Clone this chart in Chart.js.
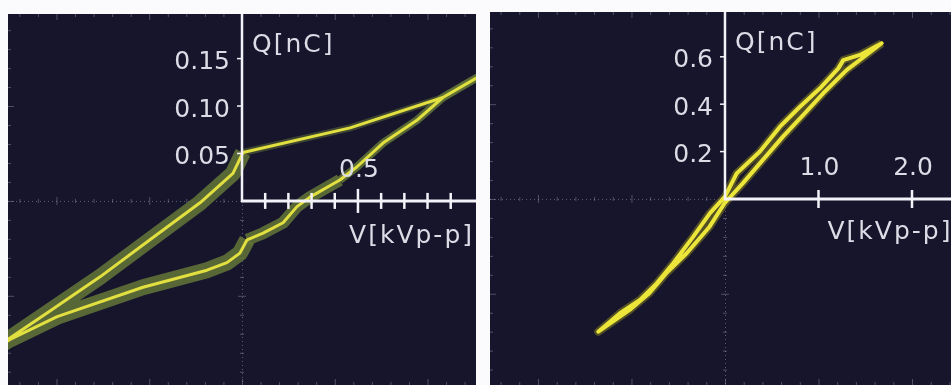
<!DOCTYPE html>
<html>
<head>
<meta charset="utf-8">
<script src="https://cdn.jsdelivr.net/npm/chart.js@4.4.1/dist/chart.umd.min.js"></script>
<style>
  body { margin: 0; background: #fbfbfd; width: 951px; height: 385px; overflow: hidden; position: relative; }
  .painel { position: absolute; background: #17152c; }
  #painelEsq { left: 8px; top: 14px; width: 468px; height: 371px; }
  #painelDir { left: 490px; top: 12px; width: 461px; height: 373px; }
  canvas { display: block; }
</style>
</head>
<body>
<div class="painel" id="painelEsq"><canvas id="graficoEsq" width="468" height="371"></canvas></div>
<div class="painel" id="painelDir"><canvas id="graficoDir" width="461" height="373"></canvas></div>
<script>
// Painel esquerdo - laço Q-V (V em kV, Q em nC), percorrido a partir da ponta superior
const tensaoEsq = [1.07, 0.866, 0.754, 0.608, 0.496, 0.422, 0.293, 0.237, 0.177, 0.091, 0.022, -0.009, -0.065, -0.151, -0.427, -0.797, -1.0, -1.07,
  -0.828, -0.612, -0.397, -0.181, -0.039, 0.004, 0.466, 0.866, 1.07];
const cargaEsq = [0.138, 0.109, 0.085, 0.061, 0.036, 0.022, 0.004, -0.006, -0.023, -0.034, -0.041, -0.055, -0.065, -0.073, -0.091, -0.122, -0.146, -0.156,
  -0.116, -0.080, -0.041, -0.002, 0.029, 0.051, 0.077, 0.109, 0.138];

// Painel direito - laço Q-V estreito
const tensaoDir = [1.676, 1.444, 1.265, 1.212, 1.016, 0.802, 0.588, 0.374, 0.125, 0.0, -0.160, -0.339, -0.553, -0.730, -0.909, -1.123, -1.355,
  -1.02, -0.81, -0.63, -0.41, -0.165, -0.005, 0.19, 0.405, 0.62, 0.835, 1.05, 1.30, 1.676];
const cargaDir = [0.657, 0.608, 0.586, 0.551, 0.467, 0.389, 0.305, 0.200, 0.108, 0.010, -0.060, -0.159, -0.271, -0.356, -0.426, -0.482, -0.560,
  -0.468, -0.398, -0.314, -0.229, -0.117, -0.018, 0.066, 0.165, 0.263, 0.354, 0.446, 0.544, 0.657];

// Marcas dos eixos
const marcasXEsq = [0.1, 0.2, 0.3, 0.4, 0.5, 0.6, 0.7, 0.8, 0.9];
const rotulosXEsq = [0.5];
const marcasYEsq = [0.05, 0.10, 0.15];
const marcasXDir = [1.0, 2.0];
const rotulosXDir = [1.0, 2.0];
const marcasYDir = [0.2, 0.4, 0.6];

const tituloY = "Q[nC]";
const tituloX = "V[kVp-p]";

function pontos(vs, qs) {
  return vs.map((v, i) => ({ x: v, y: qs[i] }));
}

function linha(ctx, x1, y1, x2, y2) {
  ctx.beginPath();
  ctx.moveTo(x1, y1);
  ctx.lineTo(x2, y2);
  ctx.stroke();
}

// Retículo do osciloscópio + eixos brancos desenhados a partir das escalas
const eixosOsc = {
  id: "eixosOsc",
  beforeDatasetsDraw(chart, args, o) {
    const { ctx, chartArea: a, scales: { x, y } } = chart;
    const x0 = x.getPixelForValue(0), y0 = y.getPixelForValue(0);
    ctx.save();
    ctx.strokeStyle = "rgba(150,150,185,0.55)";
    ctx.lineWidth = 1;
    ctx.setLineDash([1, 3]);
    linha(ctx, a.left, y0 + 0.5, x0, y0 + 0.5);
    linha(ctx, x0 + 0.5, y0, x0 + 0.5, a.bottom);
    ctx.setLineDash([]);
    ctx.strokeStyle = "rgba(150,150,185,0.45)";
    // marcas menores nas linhas centrais e nas bordas
    for (let i = -30; i <= 30; i++) {
      const px = x.getPixelForValue(i * o.passoX);
      if (px < a.left || px > a.right) continue;
      const maior = i % 5 === 0;
      if (px < x0) linha(ctx, px + 0.5, y0 - (maior ? 4 : 2), px + 0.5, y0 + (maior ? 4 : 2));
      linha(ctx, px + 0.5, a.top, px + 0.5, a.top + (maior ? 6 : 3));
      linha(ctx, px + 0.5, a.bottom, px + 0.5, a.bottom - (maior ? 6 : 3));
    }
    for (let i = -30; i <= 30; i++) {
      const py = y.getPixelForValue(i * o.passoY);
      if (py < a.top || py > a.bottom) continue;
      const maior = i % 5 === 0;
      if (py > y0) linha(ctx, x0 - (maior ? 4 : 2), py + 0.5, x0 + (maior ? 4 : 2), py + 0.5);
      linha(ctx, a.left, py + 0.5, a.left + (maior ? 6 : 3), py + 0.5);
    }
    ctx.restore();
  },
  afterDatasetsDraw(chart, args, o) {
    const { ctx, chartArea: a, scales: { x, y } } = chart;
    const x0 = x.getPixelForValue(0), y0 = y.getPixelForValue(0);
    ctx.save();
    ctx.strokeStyle = "#f2f2f8";
    ctx.lineWidth = 2.5;
    linha(ctx, x0, a.top, x0, y0 + 1);
    ctx.lineWidth = 3;
    linha(ctx, x0 - 1, y0, a.right, y0);
    ctx.lineWidth = 2.5;
    o.marcasX.forEach(v => {
      const px = x.getPixelForValue(v);
      const h = o.rotulosX.includes(v) ? o.tickMaior : o.tick;
      linha(ctx, px, y0 - h, px, y0 + h);
    });
    ctx.lineWidth = 1.5;
    o.marcasY.forEach(v => {
      const py = y.getPixelForValue(v);
      linha(ctx, x0 - 5, py, x0, py);
    });

    ctx.fillStyle = "#dcdce6";
    ctx.font = '25px "DejaVu Sans"';
    ctx.textBaseline = "middle";
    ctx.textAlign = "right";
    o.marcasY.forEach(v => {
      ctx.fillText(v.toFixed(o.casasY), x0 - 12, y.getPixelForValue(v) + 4);
    });
    ctx.textAlign = "center";
    o.rotulosX.forEach(v => {
      ctx.fillText(v.toFixed(1), x.getPixelForValue(v) + 1, y0 - 30);
    });
    ctx.letterSpacing = "2px";
    ctx.textAlign = "left";
    ctx.fillText(tituloY, x0 + 10, a.top + 31);
    if (o.tituloXEm === null) {
      ctx.textAlign = "right";
      ctx.fillText(tituloX, a.right - 2, y0 + 36);
    } else {
      ctx.fillText(tituloX, x.getPixelForValue(o.tituloXEm) + 9, y0 + 34);
    }
    ctx.restore();
  }
};

// dataset 0 fica por cima no Chart.js, então o traço vem primeiro e a faixa depois
function criarGrafico(id, dados, faixa, escalas, opcoesEixos, larguraTraco, corTraco) {
  return new Chart(document.getElementById(id), {
    type: "scatter",
    data: {
      datasets: [
        {
          data: dados,
          showLine: true,
          pointRadius: 0,
          borderColor: corTraco,
          borderWidth: larguraTraco,
          borderJoinStyle: "round",
          borderCapStyle: "round",
          tension: 0
        },
        {
          data: dados,
          showLine: true,
          pointRadius: 0,
          borderColor: faixa.cor,
          borderWidth: faixa.largura,
          borderJoinStyle: "round",
          borderCapStyle: "butt",
          segment: faixa.segmento || {},
          tension: 0
        }
      ]
    },
    options: {
      responsive: false,
      animation: false,
      layout: { padding: 0 },
      scales: {
        x: { type: "linear", display: false, min: escalas.xMin, max: escalas.xMax },
        y: { type: "linear", display: false, min: escalas.yMin, max: escalas.yMax }
      },
      plugins: {
        legend: { display: false },
        tooltip: { enabled: false },
        eixosOsc: opcoesEixos
      }
    },
    plugins: [eixosOsc]
  });
}

document.addEventListener("DOMContentLoaded", () => {
  const ramoSuperior = c => c.p0.parsed.y > 0.045 && c.p1.parsed.y > 0.045 && c.p0.parsed.x < c.p1.parsed.x;
  criarGrafico("graficoEsq", pontos(tensaoEsq, cargaEsq),
    {
      cor: "rgba(100,118,56,0.85)",
      largura: 16,
      segmento: {
        borderWidth: c => (ramoSuperior(c) ? 7 : (c.p0.parsed.x < 0 || c.p1.parsed.x < 0) ? 16 : (c.p0.parsed.x < 0.45 ? 12 : 8)),
        borderColor: c => (ramoSuperior(c) ? "rgba(100,118,56,0.5)" : "rgba(100,118,56,0.85)")
      }
    },
    { xMin: -1.009, xMax: 1.009, yMin: -0.194, yMax: 0.197 },
    { marcasX: marcasXEsq, rotulosX: rotulosXEsq, marcasY: marcasYEsq, casasY: 2, tick: 8, tickMaior: 12, passoX: 0.08, passoY: 0.02, tituloXEm: null },
    3, "#e2e040");

  criarGrafico("graficoDir", pontos(tensaoDir, cargaDir),
    { cor: "rgba(135,130,35,0.55)", largura: 8 },
    { xMin: -2.513, xMax: 2.417, yMin: -0.785, yMax: 0.789 },
    { marcasX: marcasXDir, rotulosX: rotulosXDir, marcasY: marcasYDir, casasY: 1, tick: 9, tickMaior: 9, passoX: 0.2, passoY: 0.08, tituloXEm: 1.0 },
    4, "#ece53a");
});
</script>
</body>
</html>
